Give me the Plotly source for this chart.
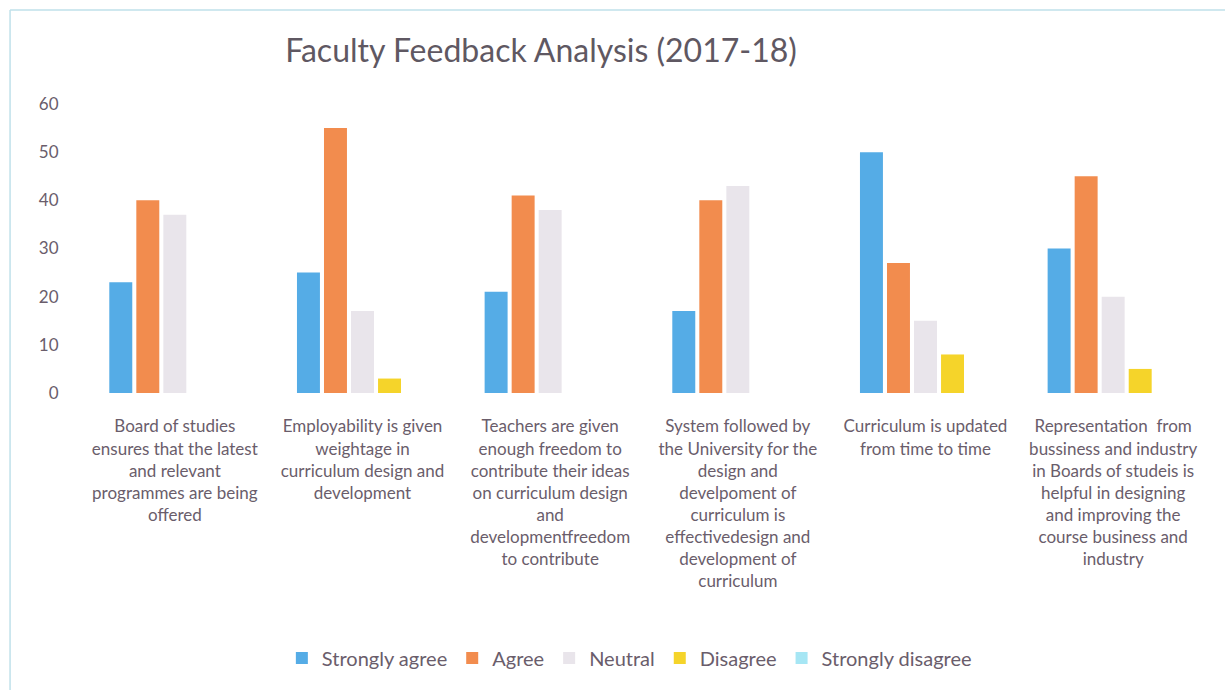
import plotly.graph_objects as go

categories = [
    "Board of studies<br>ensures that the latest<br>and relevant<br>programmes are being<br>offered",
    "Employability is given<br>weightage in<br>curriculum design and<br>development",
    "Teachers are given<br>enough freedom to<br>contribute their ideas<br>on curriculum design<br>and<br>developmentfreedom<br>to contribute",
    "System followed by<br>the University for the<br>design and<br>develpoment of<br>curriculum is<br>effectivedesign and<br>development of<br>curriculum",
    "Curriculum is updated<br>from time to time",
    "Representation  from<br>bussiness and industry<br>in Boards of studeis is<br>helpful in designing<br>and improving the<br>course business and<br>industry",
]
series_names = ["Strongly agree", "Agree", "Neutral", "Disagree", "Strongly disagree"]
strongly_agree = [23, 25, 21, 17, 50, 30]
agree = [40, 55, 41, 40, 27, 45]
neutral = [37, 17, 38, 43, 15, 20]
disagree = [0, 3, 0, 0, 8, 5]
strongly_disagree = [0, 0, 0, 0, 0, 0]
values = [strongly_agree, agree, neutral, disagree, strongly_disagree]
colors = ["#55ace6", "#f28c4e", "#e9e5eb", "#f5d42a", "#a6e6f4"]

FONT = "Lato"
TXT = "#6a5d6b"

fig = go.Figure()
for name, vals, c in zip(series_names, values, colors):
    fig.add_trace(go.Bar(name=name, x=list(range(len(categories))), y=vals,
                         marker=dict(color=c, line=dict(width=0))))

fig.update_layout(
    width=1231, height=690,
    margin=dict(l=81, r=24, t=104, b=297),
    paper_bgcolor="white", plot_bgcolor="white",
    barmode="group", bargap=0.28, bargroupgap=0.15,
    font=dict(family=FONT, color=TXT, size=17),
    title=dict(text="Faculty Feedback Analysis (2017-18)", x=541/1231, xanchor="center",
               y=1-51/690, yanchor="middle", font=dict(size=32, color="#5f5862", family=FONT)),
    showlegend=True,
    legend=dict(orientation="h", x=0.487, xanchor="center", y=-0.917, yanchor="middle",
                font=dict(size=20, color=TXT, family=FONT), itemwidth=30, traceorder="normal"),
    xaxis=dict(tickmode="array", tickvals=list(range(len(categories))), ticktext=categories,
               showgrid=False, zeroline=False, showline=False, ticks="outside", ticklen=18,
               tickcolor="rgba(0,0,0,0)", tickfont=dict(size=17, color=TXT), tickangle=0),
    yaxis=dict(range=[0, 60], dtick=10, showgrid=False, zeroline=False, showline=False,
               tickfont=dict(size=17, color=TXT), ticks="outside", ticklen=18,
               tickcolor="rgba(0,0,0,0)"),
)

# chart area border (top and left edges visible)
fig.add_shape(type="line", xref="paper", yref="paper", x0=-0.063, x1=1.016, y0=1.325, y1=1.325,
              line=dict(color="#bfe1ea", width=1.5))
fig.add_shape(type="line", xref="paper", yref="paper", x0=-0.063, x1=-0.063, y0=1.325, y1=-1.1,
              line=dict(color="#bfe1ea", width=1.5))

fig.write_html("out.html", config={"displayModeBar": False},
               post_script="document.body.style.margin='0';")
